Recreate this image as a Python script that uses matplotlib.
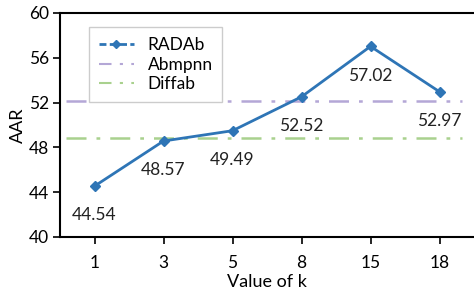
import matplotlib
matplotlib.use('Agg')
import matplotlib.pyplot as plt
from matplotlib.lines import Line2D
import numpy as np

k_labels = ['1', '3', '5', '8', '15', '18']
radab_aar = [44.54, 48.57, 49.49, 52.52, 57.02, 52.97]
abmpnn_aar = 52.1
diffab_aar = 48.8

plt.rcParams['font.family'] = ['Lato', 'DejaVu Sans']
plt.rcParams['font.size'] = 12.5

fig = plt.figure(figsize=(4.74, 2.90), dpi=100)
ax = fig.add_axes([60 / 474, 1 - 237 / 290, 1 - 60 / 474, (237 - 13) / 290])

x = np.arange(len(k_labels))
line_color = '#2E75B6'
purple = '#B4A7D6'
green = '#A9D18E'
dashdot = (0, (8, 4, 1.5, 4))

ax.plot(x, radab_aar, color=line_color, lw=2, marker='D', ms=5, zorder=4)
ax.hlines(abmpnn_aar, -0.42, 5.33, color=purple, lw=1.8, linestyles=dashdot, zorder=2)
ax.hlines(diffab_aar, -0.42, 5.33, color=green, lw=1.8, linestyles=dashdot, zorder=2)

for xi, yi in zip(x, radab_aar):
    ax.annotate('{:.2f}'.format(yi), xy=(xi, yi), xytext=(0, -21),
                textcoords='offset points', ha='center', va='center',
                color='#222222')

ax.set_xlim(-0.5, 5.5)
ax.set_ylim(40, 60)
ax.set_yticks([40, 44, 48, 52, 56, 60])
ax.set_xticks(x)
ax.set_xticklabels(k_labels)
ax.tick_params(axis='y', direction='out', length=5, width=1.2, pad=3)
ax.tick_params(axis='x', direction='out', length=5, width=1.2, pad=8)
ax.spines['right'].set_visible(False)
for s in ['left', 'bottom', 'top']:
    ax.spines[s].set_linewidth(1.5)
ax.set_xlabel('Value of k', fontsize=13, labelpad=2)
ax.set_ylabel('AAR', fontsize=13, labelpad=2)

handles = [
    Line2D([], [], color=line_color, lw=2, ls=(0, (2.5, 1.2)), marker='D', ms=4),
    Line2D([], [], color=purple, lw=1.5, ls=(0, (6, 4, 1.5, 4))),
    Line2D([], [], color=green, lw=1.5, ls=(0, (6, 4, 1.5, 4))),
]
ax.legend(handles, ['RADAb', 'Abmpnn', 'Diffab'],
          loc='upper left', bbox_to_anchor=(0.05, 0.975),
          fancybox=False, edgecolor='#CCCCCC', framealpha=1,
          handlelength=2.0, borderpad=0.55, labelspacing=0.22,
          handletextpad=0.8)

fig.savefig('out.png', dpi=100)
